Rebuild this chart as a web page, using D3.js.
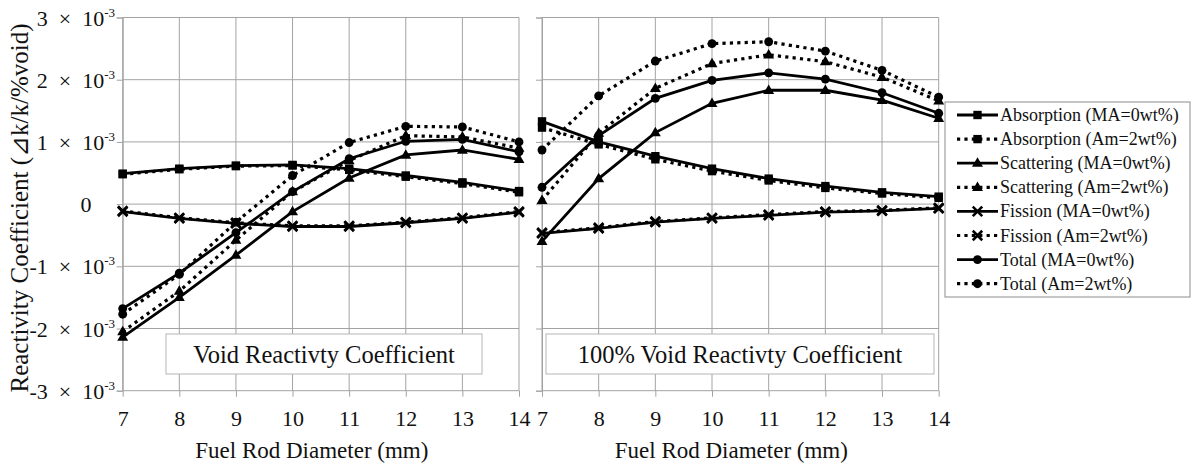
<!DOCTYPE html>
<html><head><meta charset="utf-8">
<script src="https://cdn.jsdelivr.net/npm/d3@7"></script>
<style>body{margin:0;background:#fff} svg{display:block}</style>
</head><body><svg id="c" width="1192" height="464"></svg>
<script>
// ---- data (values in units of 1e-3 Δk/k/%void) ----
const diameters = [7, 8, 9, 10, 11, 12, 13, 14];
const seriesNames = [
  "Absorption (MA=0wt%)", "Absorption (Am=2wt%)",
  "Scattering (MA=0wt%)", "Scattering (Am=2wt%)",
  "Fission (MA=0wt%)", "Fission (Am=2wt%)",
  "Total (MA=0wt%)", "Total (Am=2wt%)"
];
// Left panel: Void Reactivity Coefficient
const voidAbsorptionMA = [0.49, 0.57, 0.62, 0.63, 0.57, 0.46, 0.35, 0.21];
const voidAbsorptionAm = [0.48, 0.56, 0.61, 0.62, 0.55, 0.44, 0.33, 0.19];
const voidScatteringMA = [-2.14, -1.50, -0.82, -0.12, 0.42, 0.79, 0.87, 0.72];
const voidScatteringAm = [-2.05, -1.40, -0.58, 0.20, 0.70, 1.10, 1.08, 0.90];
const voidFissionMA = [-0.12, -0.23, -0.31, -0.36, -0.36, -0.30, -0.23, -0.13];
const voidFissionAm = [-0.11, -0.22, -0.30, -0.35, -0.35, -0.29, -0.22, -0.12];
const voidTotalMA = [-1.68, -1.11, -0.46, 0.20, 0.73, 1.01, 1.04, 0.84];
const voidTotalAm = [-1.77, -1.13, -0.29, 0.46, 0.99, 1.25, 1.24, 1.00];
// Right panel: 100% Void Reactivity Coefficient
const fullAbsorptionMA = [1.33, 1.00, 0.77, 0.57, 0.41, 0.29, 0.19, 0.12];
const fullAbsorptionAm = [1.23, 0.96, 0.72, 0.53, 0.38, 0.26, 0.17, 0.10];
const fullScatteringMA = [-0.60, 0.41, 1.15, 1.62, 1.83, 1.83, 1.67, 1.38];
const fullScatteringAm = [0.06, 1.14, 1.86, 2.26, 2.40, 2.29, 2.04, 1.66];
const fullFissionMA = [-0.47, -0.39, -0.29, -0.23, -0.18, -0.13, -0.11, -0.07];
const fullFissionAm = [-0.46, -0.38, -0.28, -0.22, -0.17, -0.12, -0.10, -0.06];
const fullTotalMA = [0.27, 1.10, 1.70, 1.99, 2.11, 2.01, 1.79, 1.46];
const fullTotalAm = [0.87, 1.74, 2.30, 2.58, 2.61, 2.46, 2.15, 1.72];

const yTicks = [-3, -2, -1, 0, 1, 2, 3];
const yTickExponent = "-3";
const xTicks = [7, 8, 9, 10, 11, 12, 13, 14];
const panelTitles = ["Void Reactivty Coefficient", "100% Void Reactivty Coefficient"];
const xAxisTitle = "Fuel Rod Diameter  (mm)";
const yAxisTitle = "Reactivity Coefficient  (\u22BFk/k/%void)";

// ---- styles ----
const markerTypes = ["square", "square", "triangle", "triangle", "x", "x", "circle", "circle"];
const dottedFlags = [false, true, false, true, false, true, false, true];
const GRID = "#a3a3a3";
const FONT = "Liberation Serif";

const panels = [
  { series: [voidAbsorptionMA, voidAbsorptionAm, voidScatteringMA, voidScatteringAm, voidFissionMA, voidFissionAm, voidTotalMA, voidTotalAm], range: [122.7, 519], title: panelTitles[0], box: [166, 482], labels: true },
  { series: [fullAbsorptionMA, fullAbsorptionAm, fullScatteringMA, fullScatteringAm, fullFissionMA, fullFissionAm, fullTotalMA, fullTotalAm], range: [542, 938.7], title: panelTitles[1], box: [546, 934], labels: false }
];

const svg = d3.select("#c");
const y = d3.scaleLinear().domain([-3, 3]).range([390.7, 17.5]);

function marker(g, type, cx, cy) {
  if (type === "x") {
    g.append("path").attr("d", d3.symbol().type(d3.symbolTimes || d3.symbolX).size(60)())
      .attr("transform", `translate(${cx},${cy})`).attr("fill", "none").attr("stroke", "#000").attr("stroke-width", 2.6);
  } else {
    const t = type === "square" ? d3.symbolSquare : type === "triangle" ? d3.symbolTriangle : d3.symbolCircle;
    const s = type === "square" ? 70 : type === "triangle" ? 52 : 62;
    g.append("path").attr("d", d3.symbol().type(t).size(s)())
      .attr("transform", `translate(${cx},${cy + (type === "triangle" ? 0.5 : 0)})`).attr("fill", "#000");
  }
}

function txt(sel) { return sel.style("font-family", `"${FONT}"`).attr("fill", "#111"); }

panels.forEach(p => {
  const x = d3.scaleLinear().domain([7, 14]).range(p.range);
  const g = svg.append("g");
  g.selectAll(".gx").data(xTicks).join("line")
    .attr("x1", d => x(d)).attr("x2", d => x(d)).attr("y1", y(3)).attr("y2", y(-3))
    .attr("stroke", GRID).attr("stroke-width", 1);
  g.selectAll(".gy").data(yTicks).join("line")
    .attr("x1", x(7)).attr("x2", x(14)).attr("y1", d => y(d)).attr("y2", d => y(d))
    .attr("stroke", GRID).attr("stroke-width", 1);
  const ya = g.append("g").attr("transform", `translate(${x(7)},0)`)
    .call(d3.axisLeft(y).tickValues(yTicks).tickSize(6).tickFormat(""));
  ya.selectAll("path,line").attr("stroke", GRID);
  const xa = g.append("g").attr("transform", `translate(0,${y(-3)})`)
    .call(d3.axisBottom(x).tickValues(xTicks).tickSize(6).tickPadding(8).tickFormat(d3.format("d")));
  xa.attr("font-family", FONT).attr("font-size", 22);
  xa.selectAll("path,line").attr("stroke", GRID);
  txt(xa.selectAll("text")).attr("font-size", 22).attr("dy", "0.95em");
  xa.select(".domain").remove();
  txt(svg.append("text")).attr("x", (p.range[0] + p.range[1]) / 2 - 9).attr("y", 458)
    .attr("text-anchor", "middle").attr("font-size", 23).text(xAxisTitle);

  if (p.labels) {
    yTicks.forEach(v => {
      const t = txt(svg.append("text")).attr("y", y(v) + 8).attr("font-size", 22);
      if (v === 0) {
        t.attr("x", 86).attr("text-anchor", "middle").text("0");
      } else {
        t.attr("x", 115).attr("text-anchor", "end");
        t.append("tspan").text(`${v}\u2002\u00D7\u200210`);
        t.append("tspan").attr("font-size", 13).attr("dy", -9).text(yTickExponent);
      }
    });
  }

  const line = d3.line().x((d, i) => x(diameters[i])).y(d => y(d));
  p.series.forEach((vals, si) => {
    const path = g.append("path").datum(vals).attr("d", line).attr("fill", "none")
      .attr("stroke", "#000").attr("stroke-width", 2.8);
    if (dottedFlags[si]) path.attr("stroke-dasharray", "3.2,4.2").attr("stroke-width", 3.2);
  });
  p.series.forEach((vals, si) => {
    vals.forEach((v, i) => marker(g, markerTypes[si], x(diameters[i]), y(v)));
  });

  g.append("rect").attr("x", p.box[0]).attr("y", 334).attr("width", p.box[1] - p.box[0]).attr("height", 40)
    .attr("fill", "#fff").attr("stroke", "#b5b5b5").attr("stroke-width", 1);
  txt(g.append("text")).attr("x", (p.box[0] + p.box[1]) / 2).attr("y", 363).attr("text-anchor", "middle")
    .attr("font-size", 24.5).text(p.title);
});

txt(svg.append("text")).attr("transform", "translate(28,208) rotate(-90)").attr("text-anchor", "middle")
  .attr("font-size", 25).text(yAxisTitle);

const lg = svg.append("g");
lg.append("rect").attr("x", 945).attr("y", 102).attr("width", 245).attr("height", 195)
  .attr("fill", "#fff").attr("stroke", "#8c8c8c").attr("stroke-width", 1);
seriesNames.forEach((name, i) => {
  const cy = 115 + i * 24.1;
  const l = lg.append("line").attr("x1", 957).attr("x2", 998).attr("y1", cy).attr("y2", cy)
    .attr("stroke", "#000").attr("stroke-width", 2.8);
  if (dottedFlags[i]) l.attr("stroke-dasharray", "3.2,4.2").attr("stroke-width", 3.2);
  marker(lg, markerTypes[i], 977.5, cy);
  txt(lg.append("text")).attr("x", 1000).attr("y", cy + 6).attr("font-size", 18).text(name);
});
</script></body></html>
